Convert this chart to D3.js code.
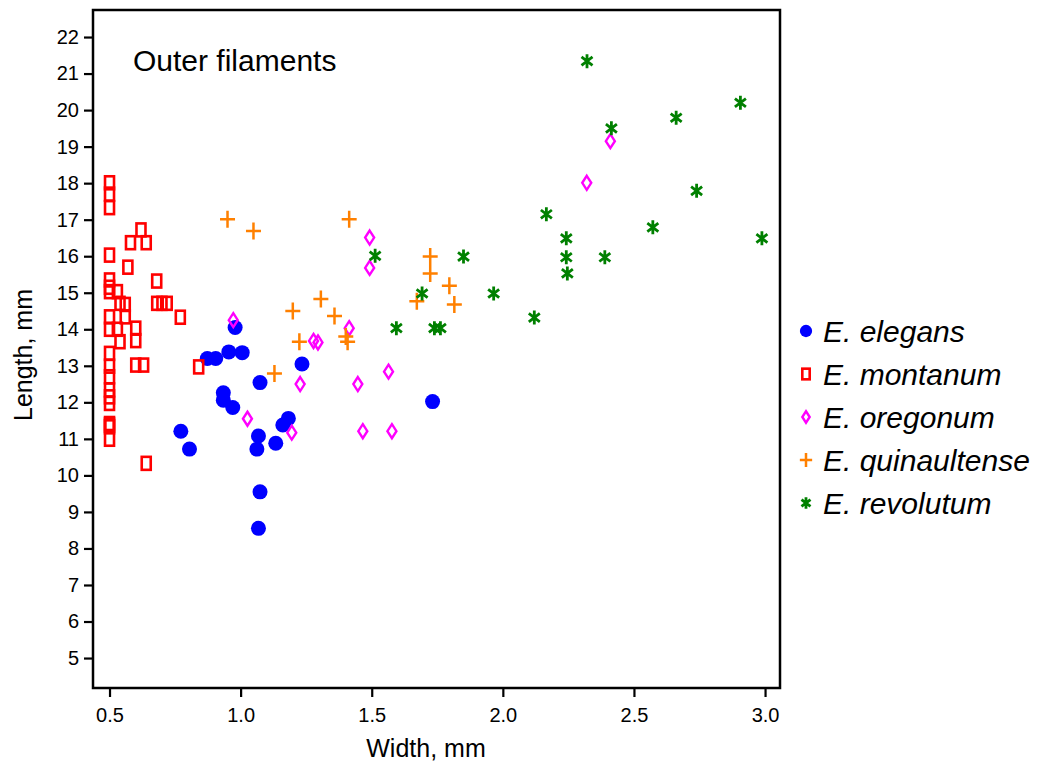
<!DOCTYPE html>
<html>
<head>
<meta charset="utf-8">
<script src="https://cdn.jsdelivr.net/npm/d3@7"></script>
<style>
  html, body { margin: 0; padding: 0; background: #fff; }
  svg { display: block; }
  text { font-family: "Liberation Sans", Arial, sans-serif; }
</style>
</head>
<body>
<svg id="chart" width="1038" height="765"></svg>
<script>
// ---- data ----
const speciesNames = ["E. elegans", "E. montanum", "E. oregonum", "E. quinaultense", "E. revolutum"];
const speciesColors = ["#0000ff", "#ff0000", "#ff00ff", "#ff8000", "#008000"];

const elegansX = [0.979, 0.873, 0.905, 0.955, 1.006, 1.234, 1.074, 0.934, 0.934, 0.970, 0.772, 0.805, 1.182, 1.161, 1.068, 1.062, 1.134, 1.074, 1.068, 1.732];
const elegansY = [14.05, 13.20, 13.20, 13.38, 13.36, 13.05, 12.54, 12.26, 12.06, 11.86, 11.21, 10.72, 11.56, 11.38, 11.08, 10.72, 10.88, 9.55, 8.55, 12.02];

const montanumX = [0.5, 0.5, 0.5, 0.62, 0.58, 0.64, 0.5, 0.57, 0.68, 0.5, 0.5, 0.5, 0.53, 0.54, 0.56, 0.68, 0.70, 0.72, 0.5, 0.56, 0.77, 0.5, 0.53, 0.60, 0.54, 0.60, 0.5, 0.5, 0.60, 0.63, 0.84, 0.5, 0.5, 0.5, 0.5, 0.5, 0.5, 0.5, 0.5, 0.64];
const montanumY = [18.01, 17.70, 17.33, 16.72, 16.37, 16.37, 16.03, 15.70, 15.32, 15.35, 15.15, 15.03, 15.03, 14.71, 14.68, 14.71, 14.71, 14.71, 14.34, 14.34, 14.33, 14.00, 14.00, 14.03, 13.66, 13.69, 13.34, 12.99, 13.02, 13.02, 12.97, 12.70, 12.34, 12.15, 11.97, 11.42, 11.33, 11.38, 10.99, 10.33];

const oregonumX = [0.972, 1.026, 1.195, 1.227, 1.278, 1.295, 1.414, 1.564, 1.447, 1.466, 1.577, 1.492, 1.492, 2.410, 2.320];
const oregonumY = [14.25, 11.55, 11.17, 12.50, 13.68, 13.64, 14.03, 12.84, 12.50, 11.21, 11.21, 16.51, 15.68, 19.15, 18.01];

const quinaultenseX = [0.950, 1.049, 1.414, 1.723, 1.723, 1.796, 1.815, 1.672, 1.306, 1.199, 1.358, 1.224, 1.401, 1.408, 1.129];
const quinaultenseY = [17.01, 16.69, 17.01, 15.99, 15.53, 15.19, 14.68, 14.77, 14.83, 14.50, 14.36, 13.66, 13.80, 13.66, 12.79];

const revolutumX = [2.321, 2.906, 2.661, 2.414, 2.739, 2.166, 2.572, 2.988, 2.242, 2.242, 2.389, 2.246, 2.120, 1.965, 1.850, 1.692, 1.594, 1.739, 1.762, 1.513];
const revolutumY = [21.34, 20.20, 19.79, 19.50, 17.79, 17.15, 16.79, 16.49, 16.49, 15.97, 15.97, 15.53, 14.32, 14.98, 15.99, 14.98, 14.03, 14.03, 14.03, 16.01];

const xTicks = [0.5, 1.0, 1.5, 2.0, 2.5, 3.0];
const yTicks = [5, 6, 7, 8, 9, 10, 11, 12, 13, 14, 15, 16, 17, 18, 19, 20, 21, 22];

const titleText = "Outer filaments";
const xLabel = "Width, mm";
const yLabel = "Length, mm";

// ---- layout ----
const svg = d3.select("#chart");
const L = 93, R = 780, T = 10, B = 688;
const FONT = "'Liberation Sans', Arial, sans-serif";
const x = d3.scaleLinear().domain([0.437, 3.057]).range([L, R]);
const y = d3.scaleLinear().domain([4.18, 22.74]).range([B, T]);

const seriesX = [elegansX, montanumX, oregonumX, quinaultenseX, revolutumX];
const seriesY = [elegansY, montanumY, oregonumY, quinaultenseY, revolutumY];

// marker drawing (s = size factor)
function drawMarker(g, kind, color, s) {
  if (kind === 0) {
    g.append("circle").attr("r", 7.5 * s).attr("fill", color);
  } else if (kind === 1) {
    g.append("rect").attr("x", -4.5 * s).attr("y", -6.5 * s).attr("width", 9 * s).attr("height", 13 * s)
      .attr("fill", "none").attr("stroke", color).attr("stroke-width", 2.6);
  } else if (kind === 2) {
    g.append("path").attr("d", `M0,${-7 * s}L${4.5 * s},0L0,${7 * s}L${-4.5 * s},0Z`)
      .attr("fill", "none").attr("stroke", color).attr("stroke-width", 2.4);
  } else if (kind === 3) {
    g.append("path").attr("d", `M${-7.5 * s},0H${7.5 * s}M0,${-8.5 * s}V${8.5 * s}`)
      .attr("fill", "none").attr("stroke", color).attr("stroke-width", 2.5);
  } else {
    g.append("path").attr("d", `M0,${-7 * s}V${7 * s}M${-5.5 * s},${-4.2 * s}L${5.5 * s},${4.2 * s}M${-5.5 * s},${4.2 * s}L${5.5 * s},${-4.2 * s}`)
      .attr("fill", "none").attr("stroke", color).attr("stroke-width", 2.8);
  }
}

// points
seriesX.forEach((xs, si) => {
  const data = xs.map((v, i) => [v, seriesY[si][i]]);
  const grp = svg.append("g");
  grp.selectAll("g").data(data).enter().append("g")
    .attr("transform", d => `translate(${x(d[0])},${y(d[1])})`)
    .each(function () { drawMarker(d3.select(this), si, speciesColors[si], 1); });
});

// frame
svg.append("rect").attr("x", L).attr("y", T).attr("width", R - L).attr("height", B - T)
  .attr("fill", "none").attr("stroke", "#000").attr("stroke-width", 2.5);

// axes
const xAxis = d3.axisBottom(x).tickValues(xTicks).tickFormat(d3.format(".1f")).tickSize(8).tickPadding(11);
const gx = svg.append("g").attr("transform", `translate(0,${B + 1})`).call(xAxis);
gx.select(".domain").remove();
gx.selectAll("line").attr("stroke-width", 2.2);
gx.selectAll("text").attr("font-size", 20).attr("font-family", FONT).attr("fill", "#000");

const yAxis = d3.axisLeft(y).tickValues(yTicks).tickSize(8).tickPadding(5);
const gy = svg.append("g").attr("transform", `translate(${L - 1},0)`).call(yAxis);
gy.select(".domain").remove();
gy.selectAll("line").attr("stroke-width", 2.2);
gy.selectAll("text").attr("font-size", 20).attr("font-family", FONT).attr("fill", "#000");

// labels
svg.append("text").attr("x", 426).attr("y", 757).attr("text-anchor", "middle")
  .attr("font-size", 25).attr("font-family", FONT).text(xLabel);
svg.append("text").attr("transform", "translate(32,355) rotate(-90)").attr("text-anchor", "middle")
  .attr("font-size", 25).attr("font-family", FONT).text(yLabel);
svg.append("text").attr("x", 133).attr("y", 71).attr("font-size", 30).attr("font-family", FONT).text(titleText);

// legend
const legend = svg.append("g");
speciesNames.forEach((name, i) => {
  const ly = 331 + i * 43;
  const mg = legend.append("g").attr("transform", `translate(806,${ly})`);
  drawMarker(mg, i, speciesColors[i], 0.82);
  legend.append("text").attr("x", 823).attr("y", ly + 11).attr("font-size", 30)
    .attr("font-style", "italic").attr("font-family", FONT).text(name);
});
</script>
</body>
</html>
